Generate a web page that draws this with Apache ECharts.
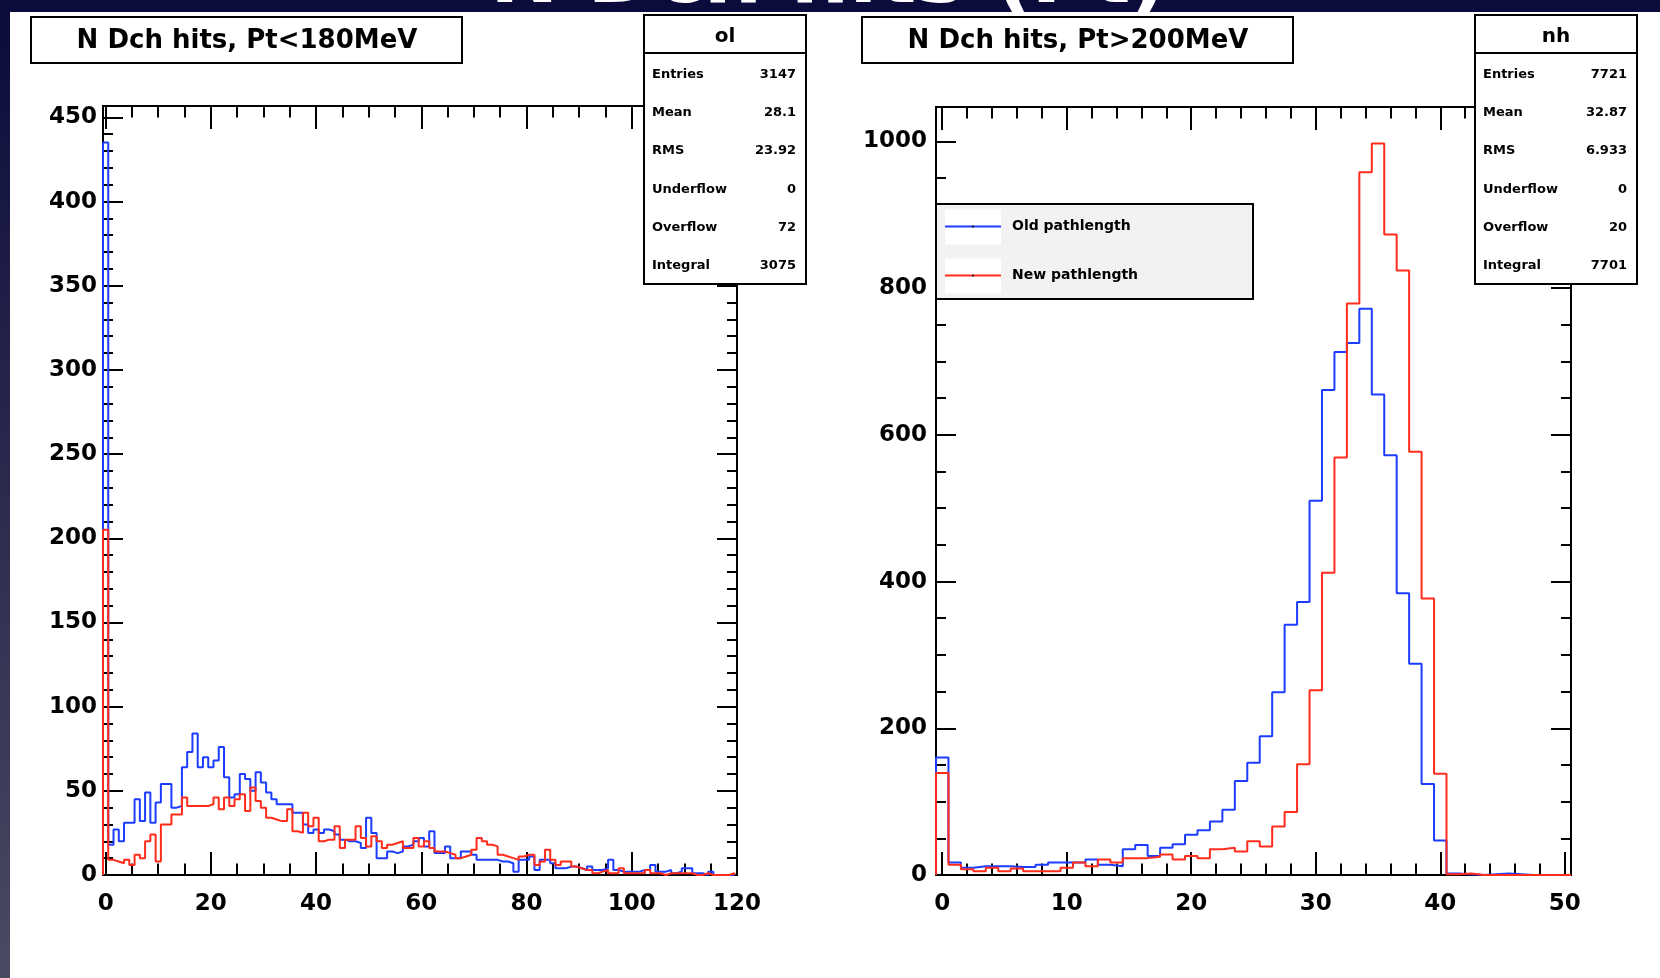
<!DOCTYPE html>
<html>
<head>
<meta charset="utf-8">
<title>N Dch hits</title>
<script src="https://cdn.jsdelivr.net/npm/echarts@6.0.0/dist/echarts.min.js"></script>
<style>
html, body { margin: 0; padding: 0; }
body { background: linear-gradient(#0b0b3c, #4a4a62); }
#main { width: 1660px; height: 978px; }
</style>
</head>
<body>
<div id="main"></div>
<script>
// bin contents, unit bins centred on 0, 1, 2, ...
const lowOld = [
  435, 18, 27, 20, 31, 31, 45, 32, 49, 31,
  43, 54, 54, 40, 41, 64, 73, 84, 64, 70,
  64, 68, 76, 58, 46, 48, 60, 57, 50, 61,
  55, 49, 45, 42, 42, 42, 37, 37, 30, 25,
  27, 25, 27, 26, 24, 21, 20, 20, 19, 16,
  34, 25, 10, 10, 14, 13, 14, 17, 18, 20,
  22, 17, 26, 13, 13, 17, 10, 10, 14, 14,
  12, 9, 9, 9, 9, 8, 8, 7, 2, 9,
  9, 11, 3, 9, 9, 7, 4, 4, 5, 5,
  4, 3, 5, 3, 3, 4, 9, 3, 2, 2,
  2, 2, 3, 3, 6, 2, 2, 3, 1, 2,
  4, 4, 1, 1, 0, 2, 0, 0, 0, 0
];
const lowNew = [
  205, 9, 8, 7, 9, 6, 12, 10, 20, 24,
  8, 30, 30, 36, 36, 46, 41, 41, 41, 41,
  42, 46, 39, 46, 41, 45, 48, 38, 52, 44,
  40, 34, 33, 32, 32, 39, 26, 25, 37, 29,
  34, 20, 21, 21, 29, 16, 21, 21, 29, 22,
  17, 23, 20, 16, 18, 19, 20, 16, 16, 22,
  17, 20, 16, 14, 14, 13, 12, 10, 11, 12,
  15, 22, 20, 18, 17, 12, 11, 10, 9, 11,
  12, 12, 6, 8, 15, 9, 6, 8, 8, 5,
  4, 3, 3, 1, 2, 3, 1, 1, 4, 1,
  1, 1, 1, 3, 1, 1, 0, 1, 1, 1,
  1, 1, 0, 0, 1, 0, 0, 0, 0, 1
];
const highOld = [
  160, 17, 10, 12, 12, 12, 11, 11, 14, 17,
  17, 17, 21, 14, 12, 35, 41, 26, 37, 42,
  55, 61, 73, 89, 128, 153, 189, 249, 341, 372,
  510, 661, 713, 725, 772, 655, 572, 384, 288, 124,
  47, 2, 1, 0, 1, 2, 1, 0, 0, 0, 0
];
const highNew = [
  139, 14, 8, 5, 10, 5, 9, 5, 5, 5,
  10, 17, 12, 21, 17, 23, 23, 25, 28, 21,
  26, 23, 35, 37, 32, 46, 39, 66, 86, 151,
  252, 412, 569, 779, 958, 997, 873, 824, 577, 377,
  138, 1, 2, 0, 0, 0, 0, 0, 0, 0, 0
];

const seriesNames = ['Old pathlength', 'New pathlength'];
const titles = ['N Dch hits, Pt<180MeV', 'N Dch hits, Pt>200MeV'];
const slideTitle = 'N Dch hits (Pt)';
const statNames = ['Entries', 'Mean', 'RMS', 'Underflow', 'Overflow', 'Integral'];
const statTitles = ['ol', 'nh'];
const lowStats = ['3147', '28.1', '23.92', '0', '72', '3075'];
const highStats = ['7721', '32.87', '6.933', '0', '20', '7701'];

const BLUE = '#1c3cff';
const RED = '#ff2c1c';
const FONT = '"DejaVu Sans", sans-serif';

const panels = [
  { frame: [103, 106, 737, 875], xMin: -0.5, xMax: 120, xTop: 120, xStep: 20, xMinor: 4,
    yTop: 450, yStep: 50, yMinor: 5, labelGap: 6, old: lowOld, neu: lowNew },
  { frame: [936, 107, 1571, 875], xMin: -0.5, xMax: 50.5, xTop: 50, xStep: 10, xMinor: 5,
    yTop: 1000, yStep: 200, yMinor: 4, labelGap: 9, old: highOld, neu: highNew }
];

// outline of a histogram: step line along the bin edges
function histPoints(values, lo) {
  const pts = [[lo, 0]];
  values.forEach((v, i) => pts.push([lo + i, v]));
  pts.push([lo + values.length, values[values.length - 1]]);
  pts.push([lo + values.length, 0]);
  return pts;
}

const tickLine = { color: '#000', width: 2 };
const labelStyle = { fontFamily: FONT, fontWeight: 'bold', fontSize: 23, color: '#000',
  formatter: (v) => String(v) };

const grids = [], xAxes = [], yAxes = [], series = [];

panels.forEach((p) => {
  const [L, T, R, B] = p.frame;
  const yMax = 1.05 * Math.max(...p.old, ...p.neu);
  const px = (R - L) / (p.xMax - p.xMin);
  const py = (B - T) / yMax;
  const tl = L - p.xMin * px;
  const tr = L + (p.xTop - p.xMin) * px;
  const tt = B - p.yTop * py;

  // data grid, also draws the frame
  const g = grids.length;
  grids.push({ left: L, top: T, width: R - L, height: B - T, show: true,
    borderColor: '#000', borderWidth: 2, backgroundColor: 'transparent' });
  // tick grid, starts at 0 so the tick interval counts from a round number
  grids.push({ left: tl, top: tt, width: tr - tl, height: B - tt });

  const dx = xAxes.length, dy = yAxes.length;
  xAxes.push({ type: 'value', gridIndex: g, min: p.xMin, max: p.xMax, show: false });
  yAxes.push({ type: 'value', gridIndex: g, min: 0, max: yMax, show: false });

  const xTick = (pos, offset, label, len) => ({
    type: 'value', gridIndex: g + 1, position: pos, offset: offset,
    min: 0, max: p.xTop, interval: p.xStep,
    axisLine: { show: false, onZero: false }, splitLine: { show: false },
    axisTick: { inside: true, length: len, lineStyle: tickLine },
    minorTick: { show: true, splitNumber: p.xMinor, length: len / 2, lineStyle: tickLine },
    axisLabel: Object.assign({ show: label, margin: 18 }, labelStyle)
  });
  const yTick = (pos, offset, label) => ({
    type: 'value', gridIndex: g + 1, position: pos, offset: offset,
    min: 0, max: p.yTop, interval: p.yStep,
    axisLine: { show: false, onZero: false }, splitLine: { show: false },
    axisTick: { inside: true, length: 20, lineStyle: tickLine },
    minorTick: { show: true, splitNumber: p.yMinor, length: 10, lineStyle: tickLine },
    axisLabel: Object.assign({ show: label, margin: p.labelGap }, labelStyle)
  });
  xAxes.push(xTick('bottom', 0, true, 23), xTick('top', tt - T, false, 23));
  yAxes.push(yTick('left', tl - L, true), yTick('right', R - tr, false));

  [[p.old, BLUE, seriesNames[0]], [p.neu, RED, seriesNames[1]]].forEach(([vals, col, name], k) => {
    series.push({
      type: 'line', name: name, xAxisIndex: dx, yAxisIndex: dy, step: 'end',
      symbol: 'none', data: histPoints(vals, p.xMin), z: 3 + k, silent: true,
      lineStyle: { color: col, width: 2 }, itemStyle: { color: col }
    });
  });
});

const graphic = [
  // slide title cut off by the top edge, then the white slide area below it
  { type: 'text', z: -11, style: { x: 490, y: -19, text: slideTitle, align: 'left',
    verticalAlign: 'middle', font: 'bold 82px ' + FONT, fill: '#fff' } },
  { type: 'rect', z: -10, shape: { x: 10, y: 12, width: 1650, height: 966 }, style: { fill: '#fff' } }
];
// title boxes and stat boxes
[[31, titles[0]], [862, titles[1]]].forEach(([x, t]) => {
  graphic.push({ type: 'rect', z: 20, shape: { x: x, y: 17, width: 431, height: 46 },
    style: { fill: '#fff', stroke: '#000', lineWidth: 2 } });
  graphic.push({ type: 'text', z: 21, style: { x: x + 216, y: 41, text: t, align: 'center',
    verticalAlign: 'middle', font: 'bold 26px ' + FONT, fill: '#000' } });
});
[[644, statTitles[0], lowStats], [1475, statTitles[1], highStats]].forEach(([x, t, vals]) => {
  const w = 162;
  graphic.push({ type: 'rect', z: 20, shape: { x: x, y: 15, width: w, height: 269 },
    style: { fill: '#fff', stroke: '#000', lineWidth: 2 } });
  graphic.push({ type: 'line', z: 21, shape: { x1: x, y1: 53, x2: x + w, y2: 53 },
    style: { stroke: '#000', lineWidth: 2 } });
  graphic.push({ type: 'text', z: 21, style: { x: x + w / 2, y: 37, text: t, align: 'center',
    verticalAlign: 'middle', font: 'bold 20px ' + FONT, fill: '#000' } });
  statNames.forEach((n, i) => {
    const y = 74.5 + i * 38.3;
    graphic.push({ type: 'text', z: 21, style: { x: x + 8, y: y, text: n, align: 'left',
      verticalAlign: 'middle', font: 'bold 13px ' + FONT, fill: '#000' } });
    graphic.push({ type: 'text', z: 21, style: { x: x + w - 10, y: y, text: vals[i], align: 'right',
      verticalAlign: 'middle', font: 'bold 13px ' + FONT, fill: '#000' } });
  });
});

// legend of the right panel
graphic.push({ type: 'rect', z: 20, shape: { x: 936, y: 204, width: 317, height: 95 },
  style: { fill: '#f2f2f2', stroke: '#000', lineWidth: 2 } });
[[BLUE, seriesNames[0], 226.5], [RED, seriesNames[1], 275.5]].forEach(([col, name, y]) => {
  graphic.push({ type: 'rect', z: 21, shape: { x: 945, y: y - 17, width: 56, height: 35 },
    style: { fill: '#fff' } });
  graphic.push({ type: 'line', z: 22, shape: { x1: 945, y1: y, x2: 1001, y2: y },
    style: { stroke: col, lineWidth: 2 } });
  graphic.push({ type: 'circle', z: 23, shape: { cx: 973, cy: y, r: 1 }, style: { fill: '#000' } });
  graphic.push({ type: 'text', z: 22, style: { x: 1012, y: y, text: name, align: 'left',
    verticalAlign: 'middle', font: 'bold 14px ' + FONT, fill: '#000' } });
});

const chart = echarts.init(document.getElementById('main'));
chart.setOption({
  backgroundColor: 'transparent',
  animation: false,
  grid: grids,
  xAxis: xAxes,
  yAxis: yAxes,
  series: series,
  graphic: graphic
});
</script>
</body>
</html>
